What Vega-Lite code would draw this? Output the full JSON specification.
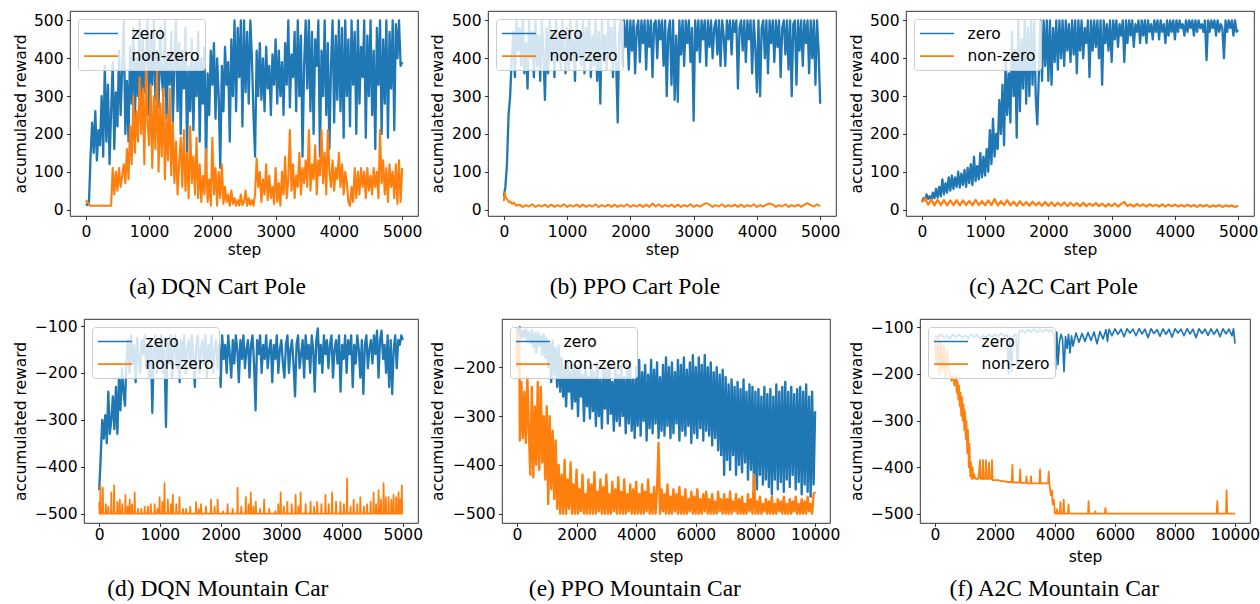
{
"$schema":"https://vega.github.io/schema/vega-lite/v6.json",
"background":"white",
"padding":{"left":12,"top":10,"right":2,"bottom":2},
"config":{
 "font":"DejaVu Sans",
 "view":{"stroke":"black","strokeWidth":0.8},
 "line":{"strokeWidth":1.6,"strokeJoin":"round"},
 "axis":{"domain":false,"grid":false,"tickSize":3.5,"tickWidth":0.8,"tickColor":"black","labelFont":"DejaVu Sans","labelFontSize":15.5,"labelColor":"black","labelPadding":3.5,"labelFlush":false,"labelOverlap":false,"titleFont":"DejaVu Sans","titleFontSize":15.5,"titleFontWeight":"normal","titleColor":"black"},
 "axisX":{"titleBaseline":"alphabetic"},
 "axisY":{"titleAngle":270,"titleBaseline":"alphabetic","titleAlign":"center"},
 "legend":{"orient":"top-left","offset":8,"padding":5,"fillColor":"rgba(255,255,255,0.8)","strokeColor":"#cccccc","cornerRadius":3,"labelFont":"DejaVu Sans","labelFontSize":15.5,"labelColor":"black","symbolStrokeWidth":1.5,"rowPadding":4.6},
 "title":{"font":"Liberation Serif","fontSize":23.5,"fontWeight":"normal","color":"black","orient":"bottom","anchor":"middle","frame":"bounds"}
},
"datasets":{
"a0":[{"x":0,"y":15},{"x":25,"y":12},{"x":50,"y":20},{"x":75,"y":140},{"x":100,"y":230},{"x":125,"y":150},{"x":150,"y":260},{"x":175,"y":130},{"x":200,"y":210},{"x":225,"y":170},{"x":250,"y":300},{"x":275,"y":140},{"x":300,"y":380},{"x":325,"y":180},{"x":350,"y":330},{"x":375,"y":120},{"x":400,"y":260},{"x":425,"y":390},{"x":450,"y":160},{"x":475,"y":310},{"x":500,"y":220},{"x":525,"y":420},{"x":550,"y":250},{"x":575,"y":370},{"x":600,"y":500},{"x":625,"y":200},{"x":650,"y":340},{"x":675,"y":180},{"x":700,"y":430},{"x":725,"y":280},{"x":750,"y":480},{"x":775,"y":240},{"x":800,"y":400},{"x":825,"y":300},{"x":850,"y":500},{"x":875,"y":260},{"x":900,"y":450},{"x":925,"y":310},{"x":950,"y":390},{"x":975,"y":500},{"x":1000,"y":250},{"x":1025,"y":460},{"x":1050,"y":330},{"x":1075,"y":500},{"x":1100,"y":290},{"x":1125,"y":420},{"x":1150,"y":270},{"x":1175,"y":480},{"x":1200,"y":350},{"x":1225,"y":300},{"x":1250,"y":500},{"x":1275,"y":240},{"x":1300,"y":410},{"x":1325,"y":330},{"x":1350,"y":470},{"x":1375,"y":230},{"x":1400,"y":380},{"x":1425,"y":500},{"x":1450,"y":260},{"x":1475,"y":440},{"x":1500,"y":200},{"x":1525,"y":420},{"x":1550,"y":320},{"x":1575,"y":480},{"x":1600,"y":150},{"x":1625,"y":380},{"x":1650,"y":260},{"x":1675,"y":450},{"x":1700,"y":210},{"x":1725,"y":390},{"x":1750,"y":300},{"x":1775,"y":470},{"x":1800,"y":180},{"x":1825,"y":400},{"x":1850,"y":280},{"x":1875,"y":430},{"x":1900,"y":110},{"x":1925,"y":360},{"x":1950,"y":250},{"x":1975,"y":420},{"x":2000,"y":330},{"x":2025,"y":440},{"x":2050,"y":240},{"x":2075,"y":400},{"x":2100,"y":300},{"x":2125,"y":110},{"x":2150,"y":380},{"x":2175,"y":260},{"x":2200,"y":430},{"x":2225,"y":330},{"x":2250,"y":390},{"x":2275,"y":180},{"x":2300,"y":450},{"x":2325,"y":300},{"x":2350,"y":500},{"x":2375,"y":260},{"x":2400,"y":480},{"x":2425,"y":350},{"x":2450,"y":500},{"x":2475,"y":220},{"x":2500,"y":500},{"x":2525,"y":310},{"x":2550,"y":470},{"x":2575,"y":280},{"x":2600,"y":500},{"x":2625,"y":400},{"x":2650,"y":250},{"x":2675,"y":140},{"x":2700,"y":420},{"x":2725,"y":300},{"x":2750,"y":440},{"x":2775,"y":290},{"x":2800,"y":400},{"x":2825,"y":260},{"x":2850,"y":430},{"x":2875,"y":320},{"x":2900,"y":380},{"x":2925,"y":250},{"x":2950,"y":410},{"x":2975,"y":330},{"x":3000,"y":450},{"x":3025,"y":280},{"x":3050,"y":420},{"x":3075,"y":300},{"x":3100,"y":390},{"x":3125,"y":250},{"x":3150,"y":440},{"x":3175,"y":330},{"x":3200,"y":500},{"x":3225,"y":270},{"x":3250,"y":410},{"x":3275,"y":350},{"x":3300,"y":470},{"x":3325,"y":260},{"x":3350,"y":500},{"x":3375,"y":300},{"x":3400,"y":460},{"x":3425,"y":140},{"x":3450,"y":380},{"x":3475,"y":500},{"x":3500,"y":320},{"x":3525,"y":500},{"x":3550,"y":260},{"x":3575,"y":470},{"x":3600,"y":200},{"x":3625,"y":450},{"x":3650,"y":380},{"x":3675,"y":500},{"x":3700,"y":140},{"x":3725,"y":420},{"x":3750,"y":300},{"x":3775,"y":500},{"x":3800,"y":250},{"x":3825,"y":440},{"x":3850,"y":160},{"x":3875,"y":380},{"x":3900,"y":500},{"x":3925,"y":230},{"x":3950,"y":460},{"x":3975,"y":290},{"x":4000,"y":500},{"x":4025,"y":260},{"x":4050,"y":480},{"x":4075,"y":190},{"x":4100,"y":500},{"x":4125,"y":300},{"x":4150,"y":450},{"x":4175,"y":220},{"x":4200,"y":500},{"x":4225,"y":330},{"x":4250,"y":470},{"x":4275,"y":200},{"x":4300,"y":500},{"x":4325,"y":280},{"x":4350,"y":430},{"x":4375,"y":350},{"x":4400,"y":500},{"x":4425,"y":190},{"x":4450,"y":460},{"x":4475,"y":300},{"x":4500,"y":500},{"x":4525,"y":250},{"x":4550,"y":420},{"x":4575,"y":160},{"x":4600,"y":480},{"x":4625,"y":330},{"x":4650,"y":500},{"x":4675,"y":200},{"x":4700,"y":450},{"x":4725,"y":280},{"x":4750,"y":500},{"x":4775,"y":190},{"x":4800,"y":470},{"x":4825,"y":320},{"x":4850,"y":500},{"x":4875,"y":210},{"x":4900,"y":490},{"x":4925,"y":400},{"x":4950,"y":500},{"x":4975,"y":380},{"x":5000,"y":390}],
"a1":[{"x":0,"y":25},{"x":25,"y":20},{"x":50,"y":12},{"x":75,"y":10},{"x":100,"y":10},{"x":125,"y":10},{"x":150,"y":10},{"x":175,"y":10},{"x":200,"y":10},{"x":225,"y":10},{"x":250,"y":10},{"x":275,"y":10},{"x":300,"y":10},{"x":325,"y":10},{"x":350,"y":10},{"x":375,"y":10},{"x":400,"y":10},{"x":425,"y":110},{"x":450,"y":40},{"x":475,"y":100},{"x":500,"y":50},{"x":525,"y":110},{"x":550,"y":60},{"x":575,"y":90},{"x":600,"y":120},{"x":625,"y":70},{"x":650,"y":160},{"x":675,"y":80},{"x":700,"y":220},{"x":725,"y":120},{"x":750,"y":300},{"x":775,"y":150},{"x":800,"y":260},{"x":825,"y":180},{"x":850,"y":350},{"x":875,"y":200},{"x":900,"y":320},{"x":925,"y":120},{"x":950,"y":380},{"x":975,"y":230},{"x":1000,"y":170},{"x":1025,"y":330},{"x":1050,"y":110},{"x":1075,"y":300},{"x":1100,"y":160},{"x":1125,"y":370},{"x":1150,"y":100},{"x":1175,"y":280},{"x":1200,"y":140},{"x":1225,"y":320},{"x":1250,"y":80},{"x":1275,"y":250},{"x":1300,"y":130},{"x":1325,"y":320},{"x":1350,"y":90},{"x":1375,"y":230},{"x":1400,"y":70},{"x":1425,"y":180},{"x":1450,"y":40},{"x":1475,"y":120},{"x":1500,"y":190},{"x":1525,"y":60},{"x":1550,"y":210},{"x":1575,"y":50},{"x":1600,"y":150},{"x":1625,"y":30},{"x":1650,"y":220},{"x":1675,"y":70},{"x":1700,"y":140},{"x":1725,"y":40},{"x":1750,"y":190},{"x":1775,"y":30},{"x":1800,"y":120},{"x":1825,"y":20},{"x":1850,"y":90},{"x":1875,"y":40},{"x":1900,"y":160},{"x":1925,"y":20},{"x":1950,"y":80},{"x":1975,"y":10},{"x":2000,"y":190},{"x":2025,"y":40},{"x":2050,"y":110},{"x":2075,"y":10},{"x":2100,"y":100},{"x":2125,"y":30},{"x":2150,"y":120},{"x":2175,"y":15},{"x":2200,"y":60},{"x":2225,"y":20},{"x":2250,"y":40},{"x":2275,"y":10},{"x":2300,"y":50},{"x":2325,"y":15},{"x":2350,"y":30},{"x":2375,"y":10},{"x":2400,"y":25},{"x":2425,"y":10},{"x":2450,"y":40},{"x":2475,"y":12},{"x":2500,"y":20},{"x":2525,"y":50},{"x":2550,"y":10},{"x":2575,"y":30},{"x":2600,"y":12},{"x":2625,"y":25},{"x":2650,"y":10},{"x":2675,"y":40},{"x":2700,"y":135},{"x":2725,"y":60},{"x":2750,"y":100},{"x":2775,"y":20},{"x":2800,"y":80},{"x":2825,"y":40},{"x":2850,"y":120},{"x":2875,"y":25},{"x":2900,"y":90},{"x":2925,"y":30},{"x":2950,"y":60},{"x":2975,"y":15},{"x":3000,"y":110},{"x":3025,"y":20},{"x":3050,"y":70},{"x":3075,"y":10},{"x":3100,"y":100},{"x":3125,"y":40},{"x":3150,"y":140},{"x":3175,"y":30},{"x":3200,"y":80},{"x":3225,"y":210},{"x":3250,"y":50},{"x":3275,"y":120},{"x":3300,"y":30},{"x":3325,"y":90},{"x":3350,"y":60},{"x":3375,"y":150},{"x":3400,"y":40},{"x":3425,"y":110},{"x":3450,"y":70},{"x":3475,"y":130},{"x":3500,"y":60},{"x":3525,"y":210},{"x":3550,"y":50},{"x":3575,"y":120},{"x":3600,"y":80},{"x":3625,"y":170},{"x":3650,"y":40},{"x":3675,"y":130},{"x":3700,"y":90},{"x":3725,"y":210},{"x":3750,"y":70},{"x":3775,"y":150},{"x":3800,"y":40},{"x":3825,"y":210},{"x":3850,"y":100},{"x":3875,"y":60},{"x":3900,"y":130},{"x":3925,"y":50},{"x":3950,"y":110},{"x":3975,"y":80},{"x":4000,"y":150},{"x":4025,"y":60},{"x":4050,"y":120},{"x":4075,"y":40},{"x":4100,"y":100},{"x":4125,"y":70},{"x":4150,"y":20},{"x":4175,"y":10},{"x":4200,"y":60},{"x":4225,"y":20},{"x":4250,"y":110},{"x":4275,"y":30},{"x":4300,"y":100},{"x":4325,"y":40},{"x":4350,"y":110},{"x":4375,"y":60},{"x":4400,"y":100},{"x":4425,"y":30},{"x":4450,"y":110},{"x":4475,"y":50},{"x":4500,"y":90},{"x":4525,"y":40},{"x":4550,"y":110},{"x":4575,"y":60},{"x":4600,"y":100},{"x":4625,"y":30},{"x":4650,"y":210},{"x":4675,"y":70},{"x":4700,"y":130},{"x":4725,"y":40},{"x":4750,"y":110},{"x":4775,"y":20},{"x":4800,"y":120},{"x":4825,"y":60},{"x":4850,"y":100},{"x":4875,"y":30},{"x":4900,"y":120},{"x":4925,"y":15},{"x":4950,"y":130},{"x":4975,"y":20},{"x":5000,"y":110}],
"b0":[{"x":0,"y":35},{"x":25,"y":60},{"x":50,"y":120},{"x":75,"y":250},{"x":100,"y":300},{"x":125,"y":400},{"x":150,"y":470},{"x":175,"y":350},{"x":200,"y":500},{"x":225,"y":420},{"x":250,"y":480},{"x":275,"y":380},{"x":300,"y":500},{"x":325,"y":360},{"x":350,"y":440},{"x":375,"y":320},{"x":400,"y":500},{"x":425,"y":400},{"x":450,"y":470},{"x":475,"y":350},{"x":500,"y":500},{"x":525,"y":380},{"x":550,"y":460},{"x":575,"y":340},{"x":600,"y":500},{"x":625,"y":420},{"x":650,"y":290},{"x":675,"y":480},{"x":700,"y":360},{"x":725,"y":500},{"x":750,"y":400},{"x":775,"y":470},{"x":800,"y":350},{"x":825,"y":500},{"x":850,"y":390},{"x":875,"y":460},{"x":900,"y":370},{"x":925,"y":500},{"x":950,"y":420},{"x":975,"y":360},{"x":1000,"y":480},{"x":1025,"y":370},{"x":1050,"y":500},{"x":1075,"y":410},{"x":1100,"y":450},{"x":1125,"y":340},{"x":1150,"y":500},{"x":1175,"y":400},{"x":1200,"y":470},{"x":1225,"y":380},{"x":1250,"y":500},{"x":1275,"y":360},{"x":1300,"y":480},{"x":1325,"y":420},{"x":1350,"y":500},{"x":1375,"y":350},{"x":1400,"y":460},{"x":1425,"y":380},{"x":1450,"y":500},{"x":1475,"y":340},{"x":1500,"y":470},{"x":1525,"y":280},{"x":1550,"y":500},{"x":1575,"y":400},{"x":1600,"y":460},{"x":1625,"y":370},{"x":1650,"y":500},{"x":1675,"y":410},{"x":1700,"y":480},{"x":1725,"y":350},{"x":1750,"y":500},{"x":1775,"y":390},{"x":1800,"y":230},{"x":1825,"y":470},{"x":1850,"y":500},{"x":1875,"y":380},{"x":1900,"y":500},{"x":1925,"y":430},{"x":1950,"y":500},{"x":1975,"y":370},{"x":2000,"y":500},{"x":2025,"y":420},{"x":2050,"y":500},{"x":2075,"y":360},{"x":2100,"y":480},{"x":2125,"y":500},{"x":2150,"y":390},{"x":2175,"y":500},{"x":2200,"y":440},{"x":2225,"y":500},{"x":2250,"y":370},{"x":2275,"y":500},{"x":2300,"y":430},{"x":2325,"y":500},{"x":2350,"y":350},{"x":2375,"y":490},{"x":2400,"y":500},{"x":2425,"y":400},{"x":2450,"y":500},{"x":2475,"y":450},{"x":2500,"y":500},{"x":2525,"y":380},{"x":2550,"y":500},{"x":2575,"y":300},{"x":2600,"y":470},{"x":2625,"y":500},{"x":2650,"y":330},{"x":2675,"y":500},{"x":2700,"y":290},{"x":2725,"y":460},{"x":2750,"y":285},{"x":2775,"y":500},{"x":2800,"y":410},{"x":2825,"y":500},{"x":2850,"y":380},{"x":2875,"y":500},{"x":2900,"y":440},{"x":2925,"y":500},{"x":2950,"y":390},{"x":2975,"y":480},{"x":3000,"y":235},{"x":3025,"y":500},{"x":3050,"y":420},{"x":3075,"y":500},{"x":3100,"y":390},{"x":3125,"y":500},{"x":3150,"y":450},{"x":3175,"y":500},{"x":3200,"y":380},{"x":3225,"y":500},{"x":3250,"y":430},{"x":3275,"y":500},{"x":3300,"y":400},{"x":3325,"y":480},{"x":3350,"y":500},{"x":3375,"y":410},{"x":3400,"y":500},{"x":3425,"y":380},{"x":3450,"y":500},{"x":3475,"y":460},{"x":3500,"y":380},{"x":3525,"y":500},{"x":3550,"y":450},{"x":3575,"y":500},{"x":3600,"y":410},{"x":3625,"y":500},{"x":3650,"y":470},{"x":3675,"y":500},{"x":3700,"y":320},{"x":3725,"y":480},{"x":3750,"y":500},{"x":3775,"y":420},{"x":3800,"y":500},{"x":3825,"y":390},{"x":3850,"y":500},{"x":3875,"y":450},{"x":3900,"y":500},{"x":3925,"y":360},{"x":3950,"y":500},{"x":3975,"y":430},{"x":4000,"y":310},{"x":4025,"y":500},{"x":4050,"y":300},{"x":4075,"y":480},{"x":4100,"y":500},{"x":4125,"y":400},{"x":4150,"y":500},{"x":4175,"y":360},{"x":4200,"y":500},{"x":4225,"y":440},{"x":4250,"y":500},{"x":4275,"y":390},{"x":4300,"y":500},{"x":4325,"y":430},{"x":4350,"y":500},{"x":4375,"y":350},{"x":4400,"y":480},{"x":4425,"y":500},{"x":4450,"y":410},{"x":4475,"y":500},{"x":4500,"y":370},{"x":4525,"y":500},{"x":4550,"y":300},{"x":4575,"y":490},{"x":4600,"y":500},{"x":4625,"y":330},{"x":4650,"y":500},{"x":4675,"y":420},{"x":4700,"y":500},{"x":4725,"y":380},{"x":4750,"y":500},{"x":4775,"y":440},{"x":4800,"y":500},{"x":4825,"y":360},{"x":4850,"y":500},{"x":4875,"y":400},{"x":4900,"y":500},{"x":4925,"y":330},{"x":4950,"y":500},{"x":4975,"y":420},{"x":5000,"y":280}],
"b1":[{"x":0,"y":22},{"x":15,"y":45},{"x":30,"y":30},{"x":50,"y":28},{"x":80,"y":20},{"x":100,"y":22},{"x":130,"y":15},{"x":160,"y":18},{"x":200,"y":10},{"x":250,"y":13},{"x":300,"y":7},{"x":350,"y":12},{"x":400,"y":8},{"x":450,"y":14},{"x":500,"y":7},{"x":550,"y":12},{"x":600,"y":8},{"x":650,"y":13},{"x":700,"y":7},{"x":750,"y":13},{"x":800,"y":7},{"x":850,"y":12},{"x":900,"y":8},{"x":950,"y":14},{"x":1000,"y":7},{"x":1050,"y":12},{"x":1100,"y":8},{"x":1150,"y":13},{"x":1200,"y":7},{"x":1250,"y":13},{"x":1300,"y":7},{"x":1350,"y":12},{"x":1400,"y":8},{"x":1450,"y":14},{"x":1500,"y":7},{"x":1550,"y":12},{"x":1600,"y":8},{"x":1650,"y":13},{"x":1700,"y":7},{"x":1750,"y":13},{"x":1800,"y":7},{"x":1850,"y":12},{"x":1900,"y":8},{"x":1950,"y":14},{"x":2000,"y":7},{"x":2050,"y":12},{"x":2100,"y":8},{"x":2150,"y":13},{"x":2200,"y":7},{"x":2250,"y":13},{"x":2300,"y":7},{"x":2350,"y":16},{"x":2400,"y":8},{"x":2450,"y":14},{"x":2500,"y":7},{"x":2550,"y":12},{"x":2600,"y":8},{"x":2650,"y":13},{"x":2700,"y":7},{"x":2750,"y":13},{"x":2800,"y":7},{"x":2850,"y":12},{"x":2900,"y":8},{"x":2950,"y":14},{"x":3000,"y":7},{"x":3050,"y":12},{"x":3100,"y":8},{"x":3150,"y":13},{"x":3200,"y":17},{"x":3250,"y":13},{"x":3300,"y":7},{"x":3350,"y":12},{"x":3400,"y":8},{"x":3450,"y":14},{"x":3500,"y":7},{"x":3550,"y":12},{"x":3600,"y":8},{"x":3650,"y":13},{"x":3700,"y":7},{"x":3750,"y":13},{"x":3800,"y":7},{"x":3850,"y":12},{"x":3900,"y":8},{"x":3950,"y":14},{"x":4000,"y":7},{"x":4050,"y":12},{"x":4100,"y":8},{"x":4150,"y":13},{"x":4200,"y":16},{"x":4250,"y":13},{"x":4300,"y":7},{"x":4350,"y":12},{"x":4400,"y":8},{"x":4450,"y":14},{"x":4500,"y":7},{"x":4550,"y":12},{"x":4600,"y":8},{"x":4650,"y":13},{"x":4700,"y":7},{"x":4750,"y":13},{"x":4800,"y":17},{"x":4850,"y":12},{"x":4900,"y":8},{"x":4950,"y":14},{"x":5000,"y":8}],
"c0":[{"x":0,"y":20},{"x":25,"y":30},{"x":50,"y":25},{"x":75,"y":40},{"x":100,"y":28},{"x":125,"y":35},{"x":150,"y":25},{"x":175,"y":45},{"x":200,"y":30},{"x":225,"y":55},{"x":250,"y":32},{"x":275,"y":60},{"x":300,"y":35},{"x":325,"y":80},{"x":350,"y":40},{"x":375,"y":70},{"x":400,"y":45},{"x":425,"y":85},{"x":450,"y":50},{"x":475,"y":90},{"x":500,"y":55},{"x":525,"y":85},{"x":550,"y":60},{"x":575,"y":100},{"x":600,"y":58},{"x":625,"y":95},{"x":650,"y":65},{"x":675,"y":105},{"x":700,"y":60},{"x":725,"y":110},{"x":750,"y":70},{"x":775,"y":120},{"x":800,"y":65},{"x":825,"y":140},{"x":850,"y":75},{"x":875,"y":115},{"x":900,"y":80},{"x":925,"y":150},{"x":950,"y":85},{"x":975,"y":140},{"x":1000,"y":90},{"x":1025,"y":160},{"x":1050,"y":100},{"x":1075,"y":210},{"x":1100,"y":120},{"x":1125,"y":240},{"x":1150,"y":140},{"x":1175,"y":200},{"x":1200,"y":160},{"x":1225,"y":290},{"x":1250,"y":200},{"x":1275,"y":330},{"x":1300,"y":170},{"x":1325,"y":400},{"x":1350,"y":250},{"x":1375,"y":360},{"x":1400,"y":230},{"x":1425,"y":470},{"x":1450,"y":300},{"x":1475,"y":420},{"x":1500,"y":190},{"x":1525,"y":500},{"x":1550,"y":260},{"x":1575,"y":450},{"x":1600,"y":320},{"x":1625,"y":500},{"x":1650,"y":280},{"x":1675,"y":480},{"x":1700,"y":300},{"x":1725,"y":500},{"x":1750,"y":330},{"x":1775,"y":500},{"x":1800,"y":300},{"x":1825,"y":225},{"x":1850,"y":360},{"x":1875,"y":500},{"x":1900,"y":340},{"x":1925,"y":500},{"x":1950,"y":380},{"x":1975,"y":500},{"x":2000,"y":340},{"x":2025,"y":500},{"x":2050,"y":330},{"x":2075,"y":480},{"x":2100,"y":390},{"x":2125,"y":500},{"x":2150,"y":370},{"x":2175,"y":500},{"x":2200,"y":400},{"x":2225,"y":500},{"x":2250,"y":380},{"x":2275,"y":500},{"x":2300,"y":420},{"x":2325,"y":490},{"x":2350,"y":390},{"x":2375,"y":500},{"x":2400,"y":410},{"x":2425,"y":500},{"x":2450,"y":360},{"x":2475,"y":500},{"x":2500,"y":420},{"x":2525,"y":500},{"x":2550,"y":400},{"x":2575,"y":480},{"x":2600,"y":440},{"x":2625,"y":500},{"x":2650,"y":350},{"x":2675,"y":500},{"x":2700,"y":420},{"x":2725,"y":500},{"x":2750,"y":430},{"x":2775,"y":500},{"x":2800,"y":400},{"x":2825,"y":500},{"x":2850,"y":330},{"x":2875,"y":500},{"x":2900,"y":440},{"x":2925,"y":490},{"x":2950,"y":420},{"x":2975,"y":500},{"x":3000,"y":390},{"x":3025,"y":500},{"x":3050,"y":450},{"x":3075,"y":500},{"x":3100,"y":430},{"x":3125,"y":490},{"x":3150,"y":460},{"x":3175,"y":500},{"x":3200,"y":390},{"x":3225,"y":500},{"x":3250,"y":440},{"x":3275,"y":500},{"x":3300,"y":460},{"x":3325,"y":500},{"x":3350,"y":430},{"x":3375,"y":490},{"x":3400,"y":470},{"x":3425,"y":500},{"x":3450,"y":440},{"x":3475,"y":500},{"x":3500,"y":460},{"x":3525,"y":500},{"x":3550,"y":440},{"x":3575,"y":500},{"x":3600,"y":470},{"x":3625,"y":490},{"x":3650,"y":450},{"x":3675,"y":500},{"x":3700,"y":470},{"x":3725,"y":500},{"x":3750,"y":450},{"x":3775,"y":500},{"x":3800,"y":470},{"x":3825,"y":490},{"x":3850,"y":440},{"x":3875,"y":500},{"x":3900,"y":460},{"x":3925,"y":500},{"x":3950,"y":470},{"x":3975,"y":500},{"x":4000,"y":450},{"x":4025,"y":500},{"x":4050,"y":470},{"x":4075,"y":500},{"x":4100,"y":480},{"x":4125,"y":490},{"x":4150,"y":460},{"x":4175,"y":500},{"x":4200,"y":470},{"x":4225,"y":500},{"x":4250,"y":480},{"x":4275,"y":500},{"x":4300,"y":460},{"x":4325,"y":500},{"x":4350,"y":470},{"x":4375,"y":500},{"x":4400,"y":480},{"x":4425,"y":490},{"x":4450,"y":470},{"x":4475,"y":500},{"x":4500,"y":395},{"x":4525,"y":500},{"x":4550,"y":470},{"x":4575,"y":500},{"x":4600,"y":480},{"x":4625,"y":500},{"x":4650,"y":460},{"x":4675,"y":500},{"x":4700,"y":470},{"x":4725,"y":490},{"x":4750,"y":480},{"x":4775,"y":400},{"x":4800,"y":500},{"x":4825,"y":470},{"x":4850,"y":500},{"x":4875,"y":480},{"x":4900,"y":500},{"x":4925,"y":460},{"x":4950,"y":500},{"x":4975,"y":470},{"x":5000,"y":475}],
"c1":[{"x":0,"y":20},{"x":50,"y":30},{"x":100,"y":13},{"x":150,"y":27},{"x":200,"y":11},{"x":250,"y":26},{"x":300,"y":12},{"x":350,"y":25},{"x":400,"y":11},{"x":450,"y":24},{"x":500,"y":12},{"x":550,"y":25},{"x":600,"y":11},{"x":650,"y":24},{"x":700,"y":12},{"x":750,"y":23},{"x":800,"y":11},{"x":850,"y":26},{"x":900,"y":12},{"x":950,"y":22},{"x":1000,"y":11},{"x":1050,"y":24},{"x":1100,"y":12},{"x":1150,"y":28},{"x":1200,"y":11},{"x":1250,"y":22},{"x":1300,"y":12},{"x":1350,"y":25},{"x":1400,"y":11},{"x":1450,"y":21},{"x":1500,"y":10},{"x":1550,"y":22},{"x":1600,"y":11},{"x":1650,"y":20},{"x":1700,"y":10},{"x":1750,"y":21},{"x":1800,"y":11},{"x":1850,"y":19},{"x":1900,"y":10},{"x":1950,"y":20},{"x":2000,"y":10},{"x":2050,"y":19},{"x":2100,"y":9},{"x":2150,"y":18},{"x":2200,"y":10},{"x":2250,"y":19},{"x":2300,"y":9},{"x":2350,"y":18},{"x":2400,"y":10},{"x":2450,"y":17},{"x":2500,"y":9},{"x":2550,"y":18},{"x":2600,"y":9},{"x":2650,"y":16},{"x":2700,"y":10},{"x":2750,"y":17},{"x":2800,"y":9},{"x":2850,"y":16},{"x":2900,"y":8},{"x":2950,"y":15},{"x":3000,"y":9},{"x":3050,"y":16},{"x":3100,"y":8},{"x":3150,"y":15},{"x":3200,"y":20},{"x":3250,"y":9},{"x":3300,"y":14},{"x":3350,"y":8},{"x":3400,"y":15},{"x":3450,"y":9},{"x":3500,"y":14},{"x":3550,"y":8},{"x":3600,"y":14},{"x":3650,"y":9},{"x":3700,"y":13},{"x":3750,"y":8},{"x":3800,"y":14},{"x":3850,"y":8},{"x":3900,"y":13},{"x":3950,"y":9},{"x":4000,"y":13},{"x":4050,"y":8},{"x":4100,"y":12},{"x":4150,"y":8},{"x":4200,"y":13},{"x":4250,"y":8},{"x":4300,"y":12},{"x":4350,"y":7},{"x":4400,"y":12},{"x":4450,"y":8},{"x":4500,"y":12},{"x":4550,"y":7},{"x":4600,"y":11},{"x":4650,"y":8},{"x":4700,"y":12},{"x":4750,"y":7},{"x":4800,"y":11},{"x":4850,"y":8},{"x":4900,"y":11},{"x":4950,"y":7},{"x":5000,"y":10}],
"d0":[{"x":0,"y":-450},{"x":25,"y":-380},{"x":50,"y":-300},{"x":75,"y":-340},{"x":100,"y":-290},{"x":125,"y":-350},{"x":150,"y":-240},{"x":175,"y":-330},{"x":200,"y":-300},{"x":225,"y":-250},{"x":250,"y":-320},{"x":275,"y":-230},{"x":300,"y":-330},{"x":325,"y":-210},{"x":350,"y":-280},{"x":375,"y":-190},{"x":400,"y":-240},{"x":425,"y":-270},{"x":450,"y":-170},{"x":475,"y":-130},{"x":500,"y":-200},{"x":525,"y":-120},{"x":550,"y":-180},{"x":575,"y":-140},{"x":600,"y":-220},{"x":625,"y":-125},{"x":650,"y":-170},{"x":675,"y":-200},{"x":700,"y":-130},{"x":725,"y":-160},{"x":750,"y":-120},{"x":775,"y":-190},{"x":800,"y":-140},{"x":825,"y":-210},{"x":850,"y":-130},{"x":875,"y":-285},{"x":900,"y":-150},{"x":925,"y":-120},{"x":950,"y":-200},{"x":975,"y":-140},{"x":1000,"y":-180},{"x":1025,"y":-120},{"x":1050,"y":-200},{"x":1075,"y":-150},{"x":1100,"y":-315},{"x":1125,"y":-130},{"x":1150,"y":-180},{"x":1175,"y":-120},{"x":1200,"y":-210},{"x":1225,"y":-150},{"x":1250,"y":-120},{"x":1275,"y":-190},{"x":1300,"y":-140},{"x":1325,"y":-220},{"x":1350,"y":-130},{"x":1375,"y":-170},{"x":1400,"y":-120},{"x":1425,"y":-200},{"x":1450,"y":-150},{"x":1475,"y":-130},{"x":1500,"y":-190},{"x":1525,"y":-120},{"x":1550,"y":-160},{"x":1575,"y":-230},{"x":1600,"y":-140},{"x":1625,"y":-120},{"x":1650,"y":-200},{"x":1675,"y":-150},{"x":1700,"y":-130},{"x":1725,"y":-180},{"x":1750,"y":-120},{"x":1775,"y":-210},{"x":1800,"y":-140},{"x":1825,"y":-170},{"x":1850,"y":-120},{"x":1875,"y":-200},{"x":1900,"y":-150},{"x":1925,"y":-130},{"x":1950,"y":-190},{"x":1975,"y":-140},{"x":2000,"y":-230},{"x":2025,"y":-120},{"x":2050,"y":-170},{"x":2075,"y":-140},{"x":2100,"y":-200},{"x":2125,"y":-120},{"x":2150,"y":-160},{"x":2175,"y":-210},{"x":2200,"y":-130},{"x":2225,"y":-180},{"x":2250,"y":-120},{"x":2275,"y":-150},{"x":2300,"y":-220},{"x":2325,"y":-130},{"x":2350,"y":-170},{"x":2375,"y":-120},{"x":2400,"y":-190},{"x":2425,"y":-150},{"x":2450,"y":-130},{"x":2475,"y":-210},{"x":2500,"y":-140},{"x":2525,"y":-120},{"x":2550,"y":-180},{"x":2575,"y":-280},{"x":2600,"y":-130},{"x":2625,"y":-160},{"x":2650,"y":-120},{"x":2675,"y":-200},{"x":2700,"y":-140},{"x":2725,"y":-170},{"x":2750,"y":-120},{"x":2775,"y":-190},{"x":2800,"y":-150},{"x":2825,"y":-130},{"x":2850,"y":-220},{"x":2875,"y":-140},{"x":2900,"y":-170},{"x":2925,"y":-120},{"x":2950,"y":-200},{"x":2975,"y":-150},{"x":3000,"y":-130},{"x":3025,"y":-180},{"x":3050,"y":-210},{"x":3075,"y":-140},{"x":3100,"y":-120},{"x":3125,"y":-200},{"x":3150,"y":-150},{"x":3175,"y":-130},{"x":3200,"y":-180},{"x":3225,"y":-250},{"x":3250,"y":-140},{"x":3275,"y":-120},{"x":3300,"y":-190},{"x":3325,"y":-160},{"x":3350,"y":-130},{"x":3375,"y":-210},{"x":3400,"y":-120},{"x":3425,"y":-170},{"x":3450,"y":-140},{"x":3475,"y":-200},{"x":3500,"y":-120},{"x":3525,"y":-150},{"x":3550,"y":-240},{"x":3575,"y":-130},{"x":3600,"y":-105},{"x":3625,"y":-180},{"x":3650,"y":-140},{"x":3675,"y":-200},{"x":3700,"y":-120},{"x":3725,"y":-160},{"x":3750,"y":-130},{"x":3775,"y":-190},{"x":3800,"y":-140},{"x":3825,"y":-120},{"x":3850,"y":-210},{"x":3875,"y":-150},{"x":3900,"y":-130},{"x":3925,"y":-180},{"x":3950,"y":-120},{"x":3975,"y":-240},{"x":4000,"y":-140},{"x":4025,"y":-170},{"x":4050,"y":-120},{"x":4075,"y":-200},{"x":4100,"y":-130},{"x":4125,"y":-160},{"x":4150,"y":-120},{"x":4175,"y":-230},{"x":4200,"y":-140},{"x":4225,"y":-180},{"x":4250,"y":-120},{"x":4275,"y":-150},{"x":4300,"y":-210},{"x":4325,"y":-130},{"x":4350,"y":-245},{"x":4375,"y":-140},{"x":4400,"y":-120},{"x":4425,"y":-190},{"x":4450,"y":-150},{"x":4475,"y":-130},{"x":4500,"y":-180},{"x":4525,"y":-120},{"x":4550,"y":-160},{"x":4575,"y":-110},{"x":4600,"y":-210},{"x":4625,"y":-130},{"x":4650,"y":-110},{"x":4675,"y":-170},{"x":4700,"y":-140},{"x":4725,"y":-200},{"x":4750,"y":-120},{"x":4775,"y":-230},{"x":4800,"y":-130},{"x":4825,"y":-245},{"x":4850,"y":-150},{"x":4875,"y":-120},{"x":4900,"y":-190},{"x":4925,"y":-130},{"x":4950,"y":-140},{"x":4975,"y":-120},{"x":5000,"y":-130}],
"d1":[{"x":0,"y":-475},{"x":6,"y":-500},{"x":14,"y":-500},{"x":20,"y":-440},{"x":26,"y":-500},{"x":54,"y":-500},{"x":60,"y":-445},{"x":66,"y":-500},{"x":104,"y":-500},{"x":110,"y":-480},{"x":116,"y":-500},{"x":144,"y":-500},{"x":150,"y":-485},{"x":156,"y":-500},{"x":194,"y":-500},{"x":200,"y":-455},{"x":206,"y":-500},{"x":240,"y":-500},{"x":246,"y":-440},{"x":252,"y":-500},{"x":294,"y":-500},{"x":300,"y":-475},{"x":306,"y":-500},{"x":333,"y":-500},{"x":339,"y":-470},{"x":345,"y":-500},{"x":374,"y":-500},{"x":380,"y":-480},{"x":386,"y":-500},{"x":426,"y":-500},{"x":432,"y":-460},{"x":438,"y":-500},{"x":464,"y":-500},{"x":470,"y":-485},{"x":476,"y":-500},{"x":497,"y":-500},{"x":503,"y":-470},{"x":509,"y":-500},{"x":534,"y":-500},{"x":540,"y":-480},{"x":546,"y":-500},{"x":579,"y":-500},{"x":585,"y":-455},{"x":591,"y":-500},{"x":634,"y":-500},{"x":640,"y":-490},{"x":646,"y":-500},{"x":688,"y":-500},{"x":694,"y":-490},{"x":700,"y":-500},{"x":744,"y":-500},{"x":750,"y":-485},{"x":756,"y":-500},{"x":797,"y":-500},{"x":803,"y":-485},{"x":809,"y":-500},{"x":844,"y":-500},{"x":850,"y":-480},{"x":856,"y":-500},{"x":907,"y":-500},{"x":913,"y":-480},{"x":919,"y":-500},{"x":954,"y":-500},{"x":960,"y":-490},{"x":966,"y":-500},{"x":989,"y":-500},{"x":995,"y":-465},{"x":1001,"y":-500},{"x":1034,"y":-500},{"x":1040,"y":-475},{"x":1046,"y":-500},{"x":1070,"y":-500},{"x":1076,"y":-435},{"x":1082,"y":-500},{"x":1125,"y":-500},{"x":1131,"y":-470},{"x":1137,"y":-500},{"x":1174,"y":-500},{"x":1180,"y":-480},{"x":1186,"y":-500},{"x":1207,"y":-500},{"x":1213,"y":-460},{"x":1219,"y":-500},{"x":1264,"y":-500},{"x":1270,"y":-480},{"x":1276,"y":-500},{"x":1316,"y":-500},{"x":1322,"y":-465},{"x":1328,"y":-500},{"x":1374,"y":-500},{"x":1380,"y":-490},{"x":1386,"y":-500},{"x":1426,"y":-500},{"x":1432,"y":-490},{"x":1438,"y":-500},{"x":1494,"y":-500},{"x":1500,"y":-485},{"x":1506,"y":-500},{"x":1590,"y":-500},{"x":1596,"y":-475},{"x":1602,"y":-500},{"x":1634,"y":-500},{"x":1640,"y":-490},{"x":1646,"y":-500},{"x":1672,"y":-500},{"x":1678,"y":-480},{"x":1684,"y":-500},{"x":1754,"y":-500},{"x":1760,"y":-485},{"x":1766,"y":-500},{"x":1836,"y":-500},{"x":1842,"y":-470},{"x":1848,"y":-500},{"x":1894,"y":-500},{"x":1900,"y":-485},{"x":1906,"y":-500},{"x":1945,"y":-500},{"x":1951,"y":-470},{"x":1957,"y":-500},{"x":2034,"y":-500},{"x":2040,"y":-495},{"x":2046,"y":-500},{"x":2109,"y":-500},{"x":2115,"y":-480},{"x":2121,"y":-500},{"x":2194,"y":-500},{"x":2200,"y":-490},{"x":2206,"y":-500},{"x":2273,"y":-500},{"x":2279,"y":-445},{"x":2285,"y":-500},{"x":2334,"y":-500},{"x":2340,"y":-485},{"x":2346,"y":-500},{"x":2409,"y":-500},{"x":2415,"y":-465},{"x":2421,"y":-500},{"x":2454,"y":-500},{"x":2460,"y":-480},{"x":2466,"y":-500},{"x":2491,"y":-500},{"x":2497,"y":-455},{"x":2503,"y":-500},{"x":2534,"y":-500},{"x":2540,"y":-485},{"x":2546,"y":-500},{"x":2573,"y":-500},{"x":2579,"y":-475},{"x":2585,"y":-500},{"x":2644,"y":-500},{"x":2650,"y":-490},{"x":2656,"y":-500},{"x":2710,"y":-500},{"x":2716,"y":-470},{"x":2722,"y":-500},{"x":2794,"y":-500},{"x":2800,"y":-490},{"x":2806,"y":-500},{"x":2894,"y":-500},{"x":2900,"y":-495},{"x":2906,"y":-500},{"x":2944,"y":-500},{"x":2950,"y":-480},{"x":2956,"y":-500},{"x":2983,"y":-500},{"x":2989,"y":-455},{"x":2995,"y":-500},{"x":3034,"y":-500},{"x":3040,"y":-485},{"x":3046,"y":-500},{"x":3092,"y":-500},{"x":3098,"y":-475},{"x":3104,"y":-500},{"x":3164,"y":-500},{"x":3170,"y":-480},{"x":3176,"y":-500},{"x":3229,"y":-500},{"x":3235,"y":-460},{"x":3241,"y":-500},{"x":3274,"y":-500},{"x":3280,"y":-485},{"x":3286,"y":-500},{"x":3311,"y":-500},{"x":3317,"y":-455},{"x":3323,"y":-500},{"x":3394,"y":-500},{"x":3400,"y":-480},{"x":3406,"y":-500},{"x":3475,"y":-500},{"x":3481,"y":-475},{"x":3487,"y":-500},{"x":3534,"y":-500},{"x":3540,"y":-485},{"x":3546,"y":-500},{"x":3584,"y":-500},{"x":3590,"y":-475},{"x":3596,"y":-500},{"x":3654,"y":-500},{"x":3660,"y":-480},{"x":3666,"y":-500},{"x":3721,"y":-500},{"x":3727,"y":-460},{"x":3733,"y":-500},{"x":3774,"y":-500},{"x":3780,"y":-480},{"x":3786,"y":-500},{"x":3830,"y":-500},{"x":3836,"y":-455},{"x":3842,"y":-500},{"x":3894,"y":-500},{"x":3900,"y":-475},{"x":3906,"y":-500},{"x":3967,"y":-500},{"x":3973,"y":-475},{"x":3979,"y":-500},{"x":4024,"y":-500},{"x":4030,"y":-480},{"x":4036,"y":-500},{"x":4076,"y":-500},{"x":4082,"y":-425},{"x":4088,"y":-500},{"x":4134,"y":-500},{"x":4140,"y":-485},{"x":4146,"y":-500},{"x":4185,"y":-500},{"x":4191,"y":-470},{"x":4197,"y":-500},{"x":4244,"y":-500},{"x":4250,"y":-480},{"x":4256,"y":-500},{"x":4294,"y":-500},{"x":4300,"y":-465},{"x":4306,"y":-500},{"x":4354,"y":-500},{"x":4360,"y":-485},{"x":4366,"y":-500},{"x":4404,"y":-500},{"x":4410,"y":-480},{"x":4416,"y":-500},{"x":4464,"y":-500},{"x":4470,"y":-475},{"x":4476,"y":-500},{"x":4513,"y":-500},{"x":4519,"y":-455},{"x":4525,"y":-500},{"x":4554,"y":-500},{"x":4560,"y":-480},{"x":4566,"y":-500},{"x":4595,"y":-500},{"x":4601,"y":-450},{"x":4607,"y":-500},{"x":4634,"y":-500},{"x":4640,"y":-470},{"x":4646,"y":-500},{"x":4677,"y":-500},{"x":4683,"y":-435},{"x":4689,"y":-500},{"x":4714,"y":-500},{"x":4720,"y":-465},{"x":4726,"y":-500},{"x":4759,"y":-500},{"x":4765,"y":-465},{"x":4771,"y":-500},{"x":4804,"y":-500},{"x":4810,"y":-470},{"x":4816,"y":-500},{"x":4841,"y":-500},{"x":4847,"y":-460},{"x":4853,"y":-500},{"x":4884,"y":-500},{"x":4890,"y":-465},{"x":4896,"y":-500},{"x":4923,"y":-500},{"x":4929,"y":-455},{"x":4935,"y":-500},{"x":4954,"y":-500},{"x":4960,"y":-470},{"x":4966,"y":-500},{"x":4978,"y":-500},{"x":4984,"y":-440},{"x":4990,"y":-500},{"x":5000,"y":-500}],
"e0":[{"x":0,"y":-120},{"x":50,"y":-135},{"x":100,"y":-118},{"x":150,"y":-140},{"x":200,"y":-125},{"x":250,"y":-138},{"x":300,"y":-122},{"x":350,"y":-145},{"x":400,"y":-128},{"x":450,"y":-150},{"x":500,"y":-125},{"x":550,"y":-160},{"x":600,"y":-130},{"x":650,"y":-170},{"x":700,"y":-128},{"x":750,"y":-155},{"x":800,"y":-135},{"x":850,"y":-175},{"x":900,"y":-132},{"x":950,"y":-180},{"x":1000,"y":-140},{"x":1050,"y":-200},{"x":1100,"y":-150},{"x":1150,"y":-230},{"x":1200,"y":-145},{"x":1250,"y":-215},{"x":1300,"y":-160},{"x":1350,"y":-240},{"x":1400,"y":-155},{"x":1450,"y":-250},{"x":1500,"y":-180},{"x":1550,"y":-260},{"x":1600,"y":-200},{"x":1650,"y":-280},{"x":1700,"y":-190},{"x":1750,"y":-250},{"x":1800,"y":-210},{"x":1850,"y":-285},{"x":1900,"y":-195},{"x":1950,"y":-270},{"x":2000,"y":-200},{"x":2050,"y":-300},{"x":2100,"y":-190},{"x":2150,"y":-260},{"x":2200,"y":-215},{"x":2250,"y":-310},{"x":2300,"y":-195},{"x":2350,"y":-280},{"x":2400,"y":-220},{"x":2450,"y":-305},{"x":2500,"y":-195},{"x":2550,"y":-290},{"x":2600,"y":-210},{"x":2650,"y":-320},{"x":2700,"y":-190},{"x":2750,"y":-300},{"x":2800,"y":-225},{"x":2850,"y":-325},{"x":2900,"y":-200},{"x":2950,"y":-285},{"x":3000,"y":-205},{"x":3050,"y":-315},{"x":3100,"y":-190},{"x":3150,"y":-295},{"x":3200,"y":-230},{"x":3250,"y":-330},{"x":3300,"y":-200},{"x":3350,"y":-310},{"x":3400,"y":-215},{"x":3450,"y":-320},{"x":3500,"y":-195},{"x":3550,"y":-300},{"x":3600,"y":-220},{"x":3650,"y":-335},{"x":3700,"y":-200},{"x":3750,"y":-315},{"x":3800,"y":-190},{"x":3850,"y":-330},{"x":3900,"y":-225},{"x":3950,"y":-345},{"x":4000,"y":-200},{"x":4050,"y":-320},{"x":4100,"y":-185},{"x":4150,"y":-340},{"x":4200,"y":-210},{"x":4250,"y":-310},{"x":4300,"y":-195},{"x":4350,"y":-350},{"x":4400,"y":-215},{"x":4450,"y":-325},{"x":4500,"y":-185},{"x":4550,"y":-335},{"x":4600,"y":-205},{"x":4650,"y":-315},{"x":4700,"y":-190},{"x":4750,"y":-345},{"x":4800,"y":-220},{"x":4850,"y":-330},{"x":4900,"y":-195},{"x":4950,"y":-340},{"x":5000,"y":-180},{"x":5050,"y":-320},{"x":5100,"y":-200},{"x":5150,"y":-345},{"x":5200,"y":-190},{"x":5250,"y":-335},{"x":5300,"y":-210},{"x":5350,"y":-315},{"x":5400,"y":-185},{"x":5450,"y":-350},{"x":5500,"y":-195},{"x":5550,"y":-330},{"x":5600,"y":-180},{"x":5650,"y":-340},{"x":5700,"y":-205},{"x":5750,"y":-320},{"x":5800,"y":-190},{"x":5850,"y":-355},{"x":5900,"y":-175},{"x":5950,"y":-335},{"x":6000,"y":-200},{"x":6050,"y":-345},{"x":6100,"y":-180},{"x":6150,"y":-325},{"x":6200,"y":-195},{"x":6250,"y":-350},{"x":6300,"y":-175},{"x":6350,"y":-330},{"x":6400,"y":-200},{"x":6450,"y":-340},{"x":6500,"y":-190},{"x":6550,"y":-360},{"x":6600,"y":-210},{"x":6650,"y":-345},{"x":6700,"y":-200},{"x":6750,"y":-370},{"x":6800,"y":-215},{"x":6850,"y":-380},{"x":6900,"y":-205},{"x":6950,"y":-420},{"x":7000,"y":-220},{"x":7050,"y":-390},{"x":7100,"y":-235},{"x":7150,"y":-410},{"x":7200,"y":-225},{"x":7250,"y":-380},{"x":7300,"y":-240},{"x":7350,"y":-420},{"x":7400,"y":-230},{"x":7450,"y":-400},{"x":7500,"y":-245},{"x":7550,"y":-415},{"x":7600,"y":-225},{"x":7650,"y":-395},{"x":7700,"y":-250},{"x":7750,"y":-430},{"x":7800,"y":-235},{"x":7850,"y":-410},{"x":7900,"y":-240},{"x":7950,"y":-445},{"x":8000,"y":-250},{"x":8050,"y":-450},{"x":8100,"y":-245},{"x":8150,"y":-420},{"x":8200,"y":-260},{"x":8250,"y":-440},{"x":8300,"y":-240},{"x":8350,"y":-430},{"x":8400,"y":-255},{"x":8450,"y":-445},{"x":8500,"y":-245},{"x":8550,"y":-460},{"x":8600,"y":-260},{"x":8650,"y":-430},{"x":8700,"y":-235},{"x":8750,"y":-450},{"x":8800,"y":-250},{"x":8850,"y":-435},{"x":8900,"y":-240},{"x":8950,"y":-455},{"x":9000,"y":-230},{"x":9050,"y":-430},{"x":9100,"y":-250},{"x":9150,"y":-445},{"x":9200,"y":-240},{"x":9250,"y":-420},{"x":9300,"y":-255},{"x":9350,"y":-450},{"x":9400,"y":-245},{"x":9450,"y":-435},{"x":9500,"y":-240},{"x":9550,"y":-460},{"x":9600,"y":-250},{"x":9650,"y":-440},{"x":9700,"y":-235},{"x":9750,"y":-455},{"x":9800,"y":-260},{"x":9850,"y":-465},{"x":9900,"y":-250},{"x":9950,"y":-440},{"x":10000,"y":-290}],
"e1":[{"x":0,"y":-125},{"x":20,"y":-200},{"x":40,"y":-130},{"x":60,"y":-190},{"x":80,"y":-140},{"x":100,"y":-350},{"x":150,"y":-230},{"x":200,"y":-345},{"x":250,"y":-250},{"x":300,"y":-355},{"x":350,"y":-220},{"x":400,"y":-330},{"x":450,"y":-420},{"x":500,"y":-240},{"x":550,"y":-425},{"x":600,"y":-280},{"x":650,"y":-400},{"x":700,"y":-230},{"x":750,"y":-410},{"x":800,"y":-240},{"x":850,"y":-395},{"x":900,"y":-300},{"x":950,"y":-430},{"x":1000,"y":-280},{"x":1050,"y":-480},{"x":1100,"y":-300},{"x":1150,"y":-450},{"x":1200,"y":-330},{"x":1250,"y":-470},{"x":1300,"y":-350},{"x":1350,"y":-490},{"x":1400,"y":-400},{"x":1450,"y":-500},{"x":1500,"y":-420},{"x":1550,"y":-500},{"x":1600,"y":-390},{"x":1650,"y":-500},{"x":1700,"y":-430},{"x":1750,"y":-490},{"x":1800,"y":-395},{"x":1850,"y":-500},{"x":1900,"y":-440},{"x":1950,"y":-500},{"x":2000,"y":-410},{"x":2050,"y":-500},{"x":2100,"y":-450},{"x":2150,"y":-495},{"x":2200,"y":-420},{"x":2250,"y":-500},{"x":2300,"y":-460},{"x":2350,"y":-500},{"x":2400,"y":-430},{"x":2450,"y":-500},{"x":2500,"y":-440},{"x":2550,"y":-500},{"x":2600,"y":-415},{"x":2650,"y":-500},{"x":2700,"y":-455},{"x":2750,"y":-495},{"x":2800,"y":-430},{"x":2850,"y":-500},{"x":2900,"y":-445},{"x":2950,"y":-500},{"x":3000,"y":-420},{"x":3050,"y":-500},{"x":3100,"y":-460},{"x":3150,"y":-500},{"x":3200,"y":-435},{"x":3250,"y":-495},{"x":3300,"y":-450},{"x":3350,"y":-500},{"x":3400,"y":-425},{"x":3450,"y":-500},{"x":3500,"y":-455},{"x":3550,"y":-500},{"x":3600,"y":-430},{"x":3650,"y":-500},{"x":3700,"y":-460},{"x":3750,"y":-495},{"x":3800,"y":-440},{"x":3850,"y":-500},{"x":3900,"y":-450},{"x":3950,"y":-500},{"x":4000,"y":-435},{"x":4050,"y":-500},{"x":4100,"y":-460},{"x":4150,"y":-500},{"x":4200,"y":-440},{"x":4250,"y":-500},{"x":4300,"y":-455},{"x":4350,"y":-495},{"x":4400,"y":-430},{"x":4450,"y":-500},{"x":4500,"y":-460},{"x":4550,"y":-500},{"x":4600,"y":-445},{"x":4650,"y":-500},{"x":4700,"y":-450},{"x":4750,"y":-355},{"x":4800,"y":-500},{"x":4850,"y":-450},{"x":4900,"y":-495},{"x":4950,"y":-460},{"x":5000,"y":-500},{"x":5050,"y":-440},{"x":5100,"y":-500},{"x":5150,"y":-465},{"x":5200,"y":-500},{"x":5250,"y":-450},{"x":5300,"y":-495},{"x":5350,"y":-460},{"x":5400,"y":-500},{"x":5450,"y":-445},{"x":5500,"y":-500},{"x":5550,"y":-465},{"x":5600,"y":-500},{"x":5650,"y":-450},{"x":5700,"y":-500},{"x":5750,"y":-470},{"x":5800,"y":-495},{"x":5850,"y":-455},{"x":5900,"y":-500},{"x":5950,"y":-465},{"x":6000,"y":-500},{"x":6050,"y":-450},{"x":6100,"y":-500},{"x":6150,"y":-470},{"x":6200,"y":-500},{"x":6250,"y":-460},{"x":6300,"y":-495},{"x":6350,"y":-455},{"x":6400,"y":-500},{"x":6450,"y":-470},{"x":6500,"y":-500},{"x":6550,"y":-460},{"x":6600,"y":-500},{"x":6650,"y":-475},{"x":6700,"y":-500},{"x":6750,"y":-455},{"x":6800,"y":-495},{"x":6850,"y":-470},{"x":6900,"y":-500},{"x":6950,"y":-460},{"x":7000,"y":-500},{"x":7050,"y":-470},{"x":7100,"y":-500},{"x":7150,"y":-455},{"x":7200,"y":-500},{"x":7250,"y":-475},{"x":7300,"y":-495},{"x":7350,"y":-460},{"x":7400,"y":-500},{"x":7450,"y":-470},{"x":7500,"y":-500},{"x":7550,"y":-465},{"x":7600,"y":-500},{"x":7650,"y":-480},{"x":7700,"y":-500},{"x":7750,"y":-460},{"x":7800,"y":-495},{"x":7850,"y":-470},{"x":7900,"y":-500},{"x":7950,"y":-420},{"x":8000,"y":-500},{"x":8050,"y":-475},{"x":8100,"y":-500},{"x":8150,"y":-465},{"x":8200,"y":-500},{"x":8250,"y":-480},{"x":8300,"y":-495},{"x":8350,"y":-470},{"x":8400,"y":-500},{"x":8450,"y":-475},{"x":8500,"y":-500},{"x":8550,"y":-465},{"x":8600,"y":-500},{"x":8650,"y":-480},{"x":8700,"y":-500},{"x":8750,"y":-470},{"x":8800,"y":-495},{"x":8850,"y":-475},{"x":8900,"y":-500},{"x":8950,"y":-465},{"x":9000,"y":-500},{"x":9050,"y":-480},{"x":9100,"y":-500},{"x":9150,"y":-470},{"x":9200,"y":-500},{"x":9250,"y":-475},{"x":9300,"y":-495},{"x":9350,"y":-465},{"x":9400,"y":-500},{"x":9450,"y":-480},{"x":9500,"y":-500},{"x":9550,"y":-470},{"x":9600,"y":-500},{"x":9650,"y":-475},{"x":9700,"y":-500},{"x":9750,"y":-465},{"x":9800,"y":-495},{"x":9850,"y":-480},{"x":9900,"y":-500},{"x":9950,"y":-460},{"x":10000,"y":-455}],
"f0":[{"x":0,"y":-118},{"x":100,"y":-123},{"x":200,"y":-115},{"x":300,"y":-122},{"x":400,"y":-117},{"x":500,"y":-124},{"x":600,"y":-116},{"x":700,"y":-121},{"x":800,"y":-115},{"x":900,"y":-122},{"x":1000,"y":-117},{"x":1100,"y":-123},{"x":1200,"y":-115},{"x":1300,"y":-121},{"x":1400,"y":-116},{"x":1500,"y":-124},{"x":1600,"y":-117},{"x":1700,"y":-122},{"x":1800,"y":-115},{"x":1900,"y":-121},{"x":2000,"y":-114},{"x":2100,"y":-120},{"x":2200,"y":-113},{"x":2300,"y":-119},{"x":2400,"y":-115},{"x":2450,"y":-200},{"x":2500,"y":-118},{"x":2550,"y":-195},{"x":2600,"y":-120},{"x":2700,"y":-113},{"x":2750,"y":-185},{"x":2800,"y":-110},{"x":2900,"y":-106},{"x":3000,"y":-112},{"x":3100,"y":-105},{"x":3200,"y":-110},{"x":3300,"y":-104},{"x":3400,"y":-111},{"x":3500,"y":-105},{"x":3600,"y":-110},{"x":3700,"y":-104},{"x":3800,"y":-109},{"x":3900,"y":-105},{"x":3980,"y":-120},{"x":4020,"y":-190},{"x":4060,"y":-110},{"x":4100,"y":-180},{"x":4150,"y":-130},{"x":4200,"y":-115},{"x":4250,"y":-125},{"x":4300,"y":-195},{"x":4350,"y":-120},{"x":4400,"y":-145},{"x":4450,"y":-115},{"x":4500,"y":-155},{"x":4550,"y":-118},{"x":4600,"y":-140},{"x":4700,"y":-112},{"x":4800,"y":-132},{"x":4900,"y":-113},{"x":5000,"y":-130},{"x":5100,"y":-111},{"x":5200,"y":-128},{"x":5300,"y":-110},{"x":5400,"y":-135},{"x":5500,"y":-109},{"x":5600,"y":-125},{"x":5700,"y":-105},{"x":5750,"y":-130},{"x":5800,"y":-104},{"x":5900,"y":-118},{"x":6000,"y":-103},{"x":6100,"y":-115},{"x":6200,"y":-104},{"x":6300,"y":-120},{"x":6400,"y":-103},{"x":6500,"y":-112},{"x":6600,"y":-104},{"x":6700,"y":-118},{"x":6800,"y":-103},{"x":6900,"y":-114},{"x":7000,"y":-104},{"x":7100,"y":-122},{"x":7200,"y":-103},{"x":7300,"y":-113},{"x":7400,"y":-105},{"x":7500,"y":-119},{"x":7600,"y":-103},{"x":7700,"y":-115},{"x":7800,"y":-104},{"x":7900,"y":-121},{"x":8000,"y":-103},{"x":8100,"y":-112},{"x":8200,"y":-104},{"x":8300,"y":-118},{"x":8400,"y":-103},{"x":8500,"y":-114},{"x":8600,"y":-104},{"x":8700,"y":-122},{"x":8800,"y":-103},{"x":8900,"y":-113},{"x":9000,"y":-104},{"x":9100,"y":-117},{"x":9200,"y":-103},{"x":9300,"y":-115},{"x":9400,"y":-104},{"x":9500,"y":-120},{"x":9600,"y":-103},{"x":9700,"y":-114},{"x":9800,"y":-104},{"x":9900,"y":-118},{"x":9950,"y":-103},{"x":10000,"y":-135}],
"f1":[{"x":0,"y":-125},{"x":50,"y":-180},{"x":100,"y":-115},{"x":150,"y":-200},{"x":200,"y":-130},{"x":250,"y":-195},{"x":300,"y":-140},{"x":350,"y":-205},{"x":400,"y":-150},{"x":450,"y":-190},{"x":500,"y":-200},{"x":550,"y":-215},{"x":600,"y":-205},{"x":650,"y":-225},{"x":700,"y":-205},{"x":725,"y":-240},{"x":750,"y":-215},{"x":775,"y":-255},{"x":800,"y":-225},{"x":825,"y":-270},{"x":850,"y":-240},{"x":875,"y":-290},{"x":900,"y":-250},{"x":925,"y":-300},{"x":950,"y":-265},{"x":975,"y":-320},{"x":1000,"y":-280},{"x":1025,"y":-340},{"x":1050,"y":-300},{"x":1075,"y":-370},{"x":1100,"y":-320},{"x":1125,"y":-400},{"x":1150,"y":-350},{"x":1175,"y":-420},{"x":1200,"y":-390},{"x":1225,"y":-425},{"x":1250,"y":-400},{"x":1275,"y":-425},{"x":1300,"y":-415},{"x":1350,"y":-425},{"x":1450,"y":-425},{"x":1500,"y":-385},{"x":1520,"y":-425},{"x":1580,"y":-425},{"x":1600,"y":-385},{"x":1620,"y":-425},{"x":1680,"y":-425},{"x":1700,"y":-385},{"x":1720,"y":-425},{"x":1780,"y":-425},{"x":1800,"y":-390},{"x":1820,"y":-425},{"x":1880,"y":-426},{"x":1900,"y":-385},{"x":1920,"y":-428},{"x":2000,"y":-428},{"x":2100,"y":-428},{"x":2200,"y":-430},{"x":2300,"y":-430},{"x":2400,"y":-432},{"x":2560,"y":-432},{"x":2580,"y":-395},{"x":2600,"y":-433},{"x":2820,"y":-433},{"x":2840,"y":-405},{"x":2860,"y":-434},{"x":3030,"y":-434},{"x":3050,"y":-420},{"x":3070,"y":-435},{"x":3180,"y":-435},{"x":3200,"y":-420},{"x":3220,"y":-435},{"x":3480,"y":-435},{"x":3500,"y":-405},{"x":3520,"y":-435},{"x":3770,"y":-435},{"x":3790,"y":-410},{"x":3820,"y":-440},{"x":3860,"y":-460},{"x":3900,"y":-450},{"x":3920,"y":-480},{"x":3960,"y":-470},{"x":4000,"y":-500},{"x":4050,"y":-500},{"x":4070,"y":-490},{"x":4090,"y":-500},{"x":4160,"y":-500},{"x":4180,"y":-475},{"x":4200,"y":-500},{"x":4270,"y":-500},{"x":4290,"y":-470},{"x":4310,"y":-500},{"x":4430,"y":-500},{"x":4450,"y":-480},{"x":4470,"y":-500},{"x":5100,"y":-500},{"x":5120,"y":-473},{"x":5140,"y":-500},{"x":5330,"y":-500},{"x":5345,"y":-495},{"x":5360,"y":-500},{"x":5660,"y":-500},{"x":5680,"y":-488},{"x":5700,"y":-500},{"x":9390,"y":-500},{"x":9410,"y":-473},{"x":9430,"y":-500},{"x":9700,"y":-500},{"x":9720,"y":-450},{"x":9740,"y":-500},{"x":10000,"y":-500}]
},
"spacing":308,
"bounds":"flush",
"resolve":{"scale":{"color":"independent"},"legend":{"color":"independent"}},
"vconcat":[
{"hconcat":[
 {"width":348,"height":205,"title":{"text":"(a) DQN Cart Pole","offset":17},
  "encoding":{"x":{"field":"x","type":"quantitative","scale":{"domain":[-250,5250],"nice":false,"zero":false},"axis":{"title":"step","values":[0,1000,2000,3000,4000,5000],"format":"d","labelPadding":5,"titleY":38.5}},
   "y":{"field":"y","type":"quantitative","scale":{"domain":[-17,525],"nice":false,"zero":false},"axis":{"title":"accumulated reward","values":[0,100,200,300,400,500],"format":"d","titleX":-45,"titleY":102.5}}},
  "layer":[
   {"data":{"name":"a0"},"mark":{"type":"line","strokeWidth":2.3},"encoding":{"color":{"datum":"zero","type":"nominal","scale":{"domain":["zero","non-zero"],"range":["#1f77b4","#ff7f0e"]},"legend":{"title":null,"symbolType":"M-2,0H2","symbolSize":289,"symbolOffset":8.5,"labelOffset":21}}}},
   {"data":{"name":"a1"},"mark":{"type":"line","strokeWidth":2.1},"encoding":{"color":{"datum":"non-zero","type":"nominal"}}}]},
 {"width":348,"height":205,"title":{"text":"(b) PPO Cart Pole","offset":17},
  "encoding":{"x":{"field":"x","type":"quantitative","scale":{"domain":[-250,5250],"nice":false,"zero":false},"axis":{"title":"step","values":[0,1000,2000,3000,4000,5000],"format":"d","labelPadding":5,"titleY":38.5}},
   "y":{"field":"y","type":"quantitative","scale":{"domain":[-17,525],"nice":false,"zero":false},"axis":{"title":"accumulated reward","values":[0,100,200,300,400,500],"format":"d","titleX":-46,"titleY":102.5}}},
  "layer":[
   {"data":{"name":"b0"},"mark":{"type":"line","strokeWidth":2.3},"encoding":{"color":{"datum":"zero","type":"nominal","scale":{"domain":["zero","non-zero"],"range":["#1f77b4","#ff7f0e"]},"legend":{"title":null,"symbolType":"M-2,0H2","symbolSize":289,"symbolOffset":8.5,"labelOffset":21}}}},
   {"data":{"name":"b1"},"mark":{"type":"line","strokeWidth":2},"encoding":{"color":{"datum":"non-zero","type":"nominal"}}}]},
 {"width":348,"height":205,"title":{"text":"(c) A2C Cart Pole","offset":17},
  "encoding":{"x":{"field":"x","type":"quantitative","scale":{"domain":[-250,5250],"nice":false,"zero":false},"axis":{"title":"step","values":[0,1000,2000,3000,4000,5000],"format":"d","labelPadding":5,"titleY":38.5}},
   "y":{"field":"y","type":"quantitative","scale":{"domain":[-17,525],"nice":false,"zero":false},"axis":{"title":"accumulated reward","values":[0,100,200,300,400,500],"format":"d","titleX":-45,"titleY":102.5}}},
  "layer":[
   {"data":{"name":"c0"},"mark":{"type":"line","strokeWidth":2.3},"encoding":{"color":{"datum":"zero","type":"nominal","scale":{"domain":["zero","non-zero"],"range":["#1f77b4","#ff7f0e"]},"legend":{"title":null,"symbolType":"M-2,0H2","symbolSize":289,"symbolOffset":8.5,"labelOffset":21}}}},
   {"data":{"name":"c1"},"mark":{"type":"line","strokeWidth":2.2},"encoding":{"color":{"datum":"non-zero","type":"nominal"}}}]}
 ],"spacing":70,"bounds":"flush","resolve":{"scale":{"color":"independent"},"legend":{"color":"independent"}}},
{"hconcat":[
 {"width":14,"height":204,"view":{"stroke":null},"data":{"values":[{"k":1}]},"mark":{"type":"point","opacity":0}},
 {"width":334,"height":204,"title":{"text":"(d) DQN Mountain Car","offset":12},
  "encoding":{"x":{"field":"x","type":"quantitative","scale":{"domain":[-250,5250],"nice":false,"zero":false},"axis":{"title":"step","values":[0,1000,2000,3000,4000,5000],"format":"d","labelPadding":1,"titleY":38.5}},
   "y":{"field":"y","type":"quantitative","scale":{"domain":[-520,-85],"nice":false,"zero":false},"axis":{"title":"accumulated reward","values":[-500,-400,-300,-200,-100],"format":"d","titleX":-59,"titleY":102}}},
  "layer":[
   {"data":{"name":"d0"},"mark":{"type":"line","strokeWidth":2.3},"encoding":{"color":{"datum":"zero","type":"nominal","scale":{"domain":["zero","non-zero"],"range":["#1f77b4","#ff7f0e"]},"legend":{"title":null,"symbolType":"M-2,0H2","symbolSize":289,"symbolOffset":8.5,"labelOffset":21}}}},
   {"data":{"name":"d1"},"mark":{"type":"line","strokeWidth":1.8},"encoding":{"color":{"datum":"non-zero","type":"nominal"}}}]},
 {"width":84,"height":204,"view":{"stroke":null},"data":{"values":[{"k":1}]},"mark":{"type":"point","opacity":0}},
 {"width":328,"height":204,"title":{"text":"(e) PPO Mountain Car","offset":12},
  "encoding":{"x":{"field":"x","type":"quantitative","scale":{"domain":[-500,10500],"nice":false,"zero":false},"axis":{"title":"step","values":[0,2000,4000,6000,8000,10000],"format":"d","labelPadding":1,"titleY":38.5}},
   "y":{"field":"y","type":"quantitative","scale":{"domain":[-519,-101],"nice":false,"zero":false},"axis":{"title":"accumulated reward","values":[-500,-400,-300,-200],"format":"d","titleX":-60,"titleY":102}}},
  "layer":[
   {"data":{"name":"e0"},"mark":{"type":"line","strokeWidth":2.4},"encoding":{"color":{"datum":"zero","type":"nominal","scale":{"domain":["zero","non-zero"],"range":["#1f77b4","#ff7f0e"]},"legend":{"title":null,"symbolType":"M-2,0H2","symbolSize":289,"symbolOffset":8.5,"labelOffset":21}}}},
   {"data":{"name":"e1"},"mark":{"type":"line","strokeWidth":2.4},"encoding":{"color":{"datum":"non-zero","type":"nominal"}}}]},
 {"width":90,"height":204,"view":{"stroke":null},"data":{"values":[{"k":1}]},"mark":{"type":"point","opacity":0}},
 {"width":330,"height":204,"title":{"text":"(f) A2C Mountain Car","offset":12},
  "encoding":{"x":{"field":"x","type":"quantitative","scale":{"domain":[-500,10500],"nice":false,"zero":false},"axis":{"title":"step","values":[0,2000,4000,6000,8000,10000],"format":"d","labelPadding":1,"titleY":38.5}},
   "y":{"field":"y","type":"quantitative","scale":{"domain":[-520,-82],"nice":false,"zero":false},"axis":{"title":"accumulated reward","values":[-500,-400,-300,-200,-100],"format":"d","titleX":-59,"titleY":102}}},
  "layer":[
   {"data":{"name":"f0"},"mark":{"type":"line","strokeWidth":1.7},"encoding":{"color":{"datum":"zero","type":"nominal","scale":{"domain":["zero","non-zero"],"range":["#1f77b4","#ff7f0e"]},"legend":{"title":null,"symbolType":"M-2,0H2","symbolSize":289,"symbolOffset":8.5,"labelOffset":21}}}},
   {"data":{"name":"f1"},"mark":{"type":"line","strokeWidth":1.8},"encoding":{"color":{"datum":"non-zero","type":"nominal"}}}]}
 ],"spacing":0,"bounds":"flush","resolve":{"scale":{"color":"independent"},"legend":{"color":"independent"}}}
]
}
